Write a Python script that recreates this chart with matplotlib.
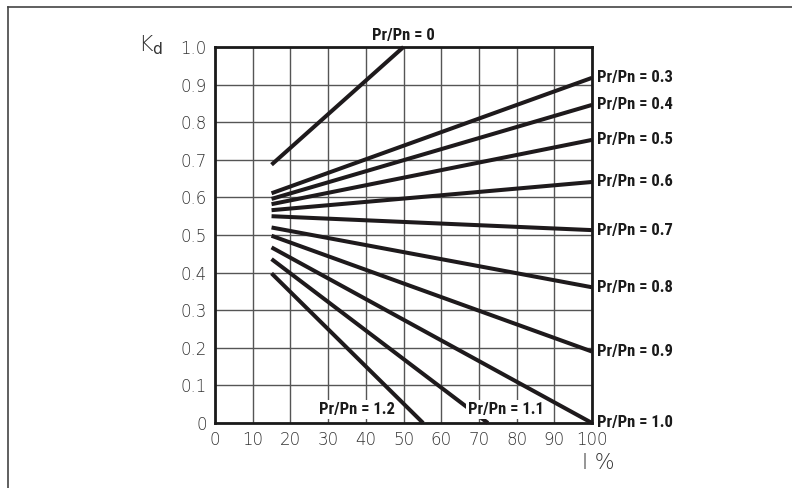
import matplotlib
matplotlib.use("Agg")
import matplotlib.pyplot as plt
from matplotlib.lines import Line2D
from matplotlib import font_manager

# Data: Pr/Pn curves (straight lines) as start/end points
ratios = ["0", "0.3", "0.4", "0.5", "0.6", "0.7", "0.8", "0.9", "1.0", "1.1", "1.2"]
x_start = [15, 15, 15, 15, 15, 15, 15, 15, 15, 15, 15]
y_start = [0.687, 0.611, 0.596, 0.582, 0.566, 0.550, 0.520, 0.498, 0.467, 0.436, 0.398]
x_end = [50, 100, 100, 100, 100, 100, 100, 100, 100, 72.4, 55.2]
y_end = [1.0, 0.918, 0.846, 0.753, 0.641, 0.513, 0.361, 0.190, 0.0, 0.0, 0.0]

x_ticks = [0, 10, 20, 30, 40, 50, 60, 70, 80, 90, 100]
y_ticks = [0, 0.1, 0.2, 0.3, 0.4, 0.5, 0.6, 0.7, 0.8, 0.9, 1.0]
y_tick_labels = ["0", "0.1", "0.2", "0.3", "0.4", "0.5", "0.6", "0.7", "0.8", "0.9", "1.0"]

# Pick a condensed bold font if available
names = {f.name for f in font_manager.fontManager.ttflist}
cond = None
for cand in ["Liberation Sans Narrow", "DejaVu Sans Condensed", "Roboto Condensed",
             "Open Sans Condensed", "Noto Sans Condensed"]:
    if cand in names:
        cond = cand
        break
lab_kw = dict(fontsize=12, fontweight="bold", color="#1a1a1a")
if cond is not None:
    lab_kw["family"] = [cond, "DejaVu Sans"]
else:
    lab_kw["family"] = ["DejaVu Sans"]
    lab_kw["fontstretch"] = "condensed"

fig = plt.figure(figsize=(7.92, 4.88), dpi=100)
ax = fig.add_axes([215 / 792, 1 - 423 / 488, 377 / 792, 376 / 488])

ax.set_xlim(0, 100)
ax.set_ylim(0, 1.0)
ax.set_xticks(x_ticks)
ax.set_xticklabels([str(v) for v in x_ticks])
ax.set_yticks(y_ticks)
ax.set_yticklabels(y_tick_labels)
ax.tick_params(length=0, pad=6, labelsize=12, labelcolor="#333333")
for lab in ax.get_xticklabels() + ax.get_yticklabels():
    lab.set_fontfamily(["DejaVu Sans"])
    lab.set_fontweight("light")

ax.grid(True, color="#555555", linewidth=1.0)
ax.set_axisbelow(True)
for sp in ax.spines.values():
    sp.set_linewidth(2.0)
    sp.set_color("#1a1a1a")

for xs, ys, xe, ye in zip(x_start, y_start, x_end, y_end):
    ax.plot([xs, xe], [ys, ye], color="#1e1a1c", linewidth=2.9,
            solid_capstyle="butt", clip_on=False, zorder=3)

# Top label for Pr/Pn = 0
ax.text(50, 1.01, "Pr/Pn = 0", ha="center", va="bottom", **lab_kw)

# Right-side labels
for r, xe, ye in zip(ratios, x_end, y_end):
    if xe == 100:
        ax.text(101.3, ye, f"Pr/Pn = {r}", ha="left", va="center",
                clip_on=False, **lab_kw)

# Bottom in-plot labels with white background
for r, xe, ye in zip(ratios, x_end, y_end):
    if r == "1.1":
        ax.text(77.3, 0.035, f"Pr/Pn = {r}", ha="center", va="center", zorder=5,
                bbox=dict(facecolor="white", edgecolor="none", pad=1.5), **lab_kw)
    if r == "1.2":
        ax.text(37.7, 0.035, f"Pr/Pn = {r}", ha="center", va="center", zorder=5,
                bbox=dict(facecolor="white", edgecolor="none", pad=1.5), **lab_kw)

# Axis labels
fig.text(138 / 792, 1 - 45 / 488, r"K$_{\mathrm{d}}$", fontsize=16, ha="left",
         va="center", color="#333333", fontweight="light")
fig.text(598 / 792, 1 - 463 / 488, "I %", fontsize=15, ha="center", va="center",
         color="#333333", fontweight="light")

# Outer frame (left and top edges)
fig.add_artist(Line2D([8 / 792, 8 / 792], [0, 1 - 7 / 488], transform=fig.transFigure,
                      color="#444444", linewidth=1.2))
fig.add_artist(Line2D([8 / 792, 1], [1 - 7 / 488, 1 - 7 / 488], transform=fig.transFigure,
                      color="#444444", linewidth=1.2))

fig.savefig("out.png", dpi=100)
